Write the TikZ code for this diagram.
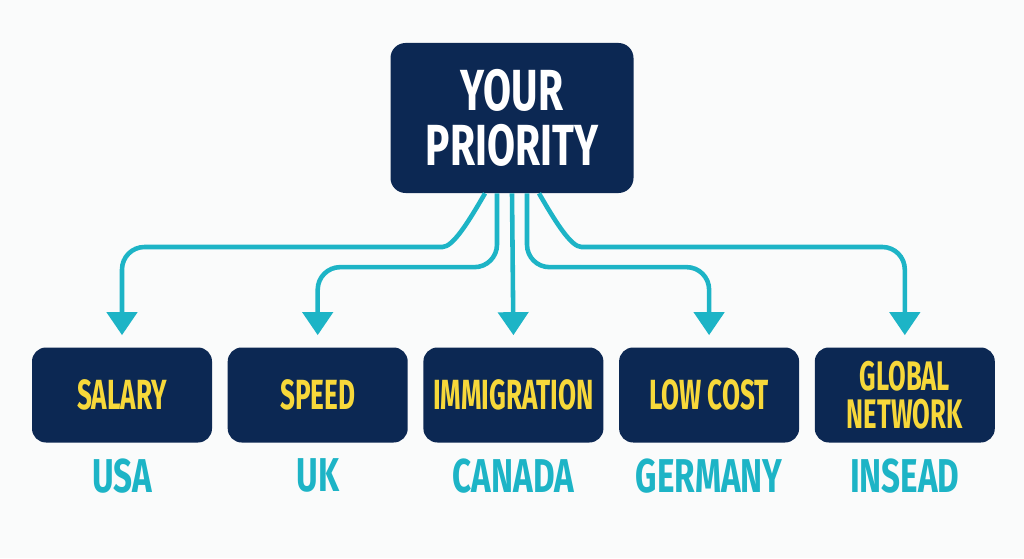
\documentclass[tikz,border=0pt]{standalone}
\usepackage{fontspec}
\newfontfamily\condfont[FakeStretch=0.7]{Fira Sans}
\newfontfamily\narrowfont[FakeStretch=0.62]{Fira Sans}
\usetikzlibrary{arrows.meta,positioning}
\definecolor{navy}{HTML}{0C2853}
\definecolor{linkteal}{HTML}{1DB4C6}
\definecolor{gold}{HTML}{F7D83A}
\definecolor{paper}{HTML}{FAFBFB}
\begin{document}
\begin{tikzpicture}[
  topbox/.style={fill=navy, rounded corners=0.3cm, minimum width=4.86cm, minimum height=3cm,
    text=white, align=center, font=\condfont\bfseries\fontsize{33}{31}\selectfont},
  choice/.style={fill=navy, rounded corners=0.28cm, minimum width=3.6cm, minimum height=1.9cm,
    inner sep=0pt, text=gold, align=center, font=\narrowfont\bfseries\fontsize{24}{24}\selectfont},
  place/.style={text=linkteal, font=\condfont\bfseries\fontsize{27}{27}\selectfont},
  link/.style={draw=linkteal, line width=2.6pt, rounded corners=0.45cm,
    -{Triangle[length=4.6mm,width=6mm]}}
]
  % Background
  \fill[paper] (0,0) rectangle (20.48,11.16);

  % Boxes
  \node[topbox] (priority) at (10.24,8.8) {YOUR\\PRIORITY};

  \node[choice] (salary) at (2.44,3.26) {SALARY};
  \node[choice, right=0.3cm of salary] (speed) {SPEED};
  \node[choice, right=0.3cm of speed] (immigration) {IMMIGRATION};
  \node[choice, right=0.3cm of immigration] (lowcost) {LOW COST};
  \node[choice, right=0.3cm of lowcost, font=\narrowfont\bfseries\fontsize{23.5}{21.5}\selectfont] (network) {GLOBAL\\NETWORK};

  % Countries
  \node[place] (usa) at ([yshift=-0.66cm]salary.south) {USA};
  \node[place] (uk) at ([yshift=-0.66cm]speed.south) {UK};
  \node[place] (canada) at ([yshift=-0.66cm]immigration.south) {CANADA};
  \node[place] (germany) at ([yshift=-0.66cm]lowcost.south) {GERMANY};
  \node[place] (insead) at ([yshift=-0.66cm]network.south) {INSEAD};

  % Links
  \coordinate (lbend) at (8.4,6.22);
  \coordinate (rbend) at (12.08,6.22);

  \draw[link] ([xshift=-0.54cm]priority.south) to[out=-120,in=0] (lbend) -| ([yshift=0.24cm]salary.north);
  \draw[link] ([xshift=-0.3cm]priority.south) |- ([yshift=1.6cm]speed.north) -- ([yshift=0.24cm]speed.north);
  \draw[link] (priority.south) -- ([yshift=0.24cm]immigration.north);
  \draw[link] ([xshift=0.3cm]priority.south) |- ([yshift=1.6cm]lowcost.north) -- ([yshift=0.24cm]lowcost.north);
  \draw[link] ([xshift=0.54cm]priority.south) to[out=-60,in=180] (rbend) -| ([yshift=0.24cm]network.north);
\end{tikzpicture}
\end{document}
